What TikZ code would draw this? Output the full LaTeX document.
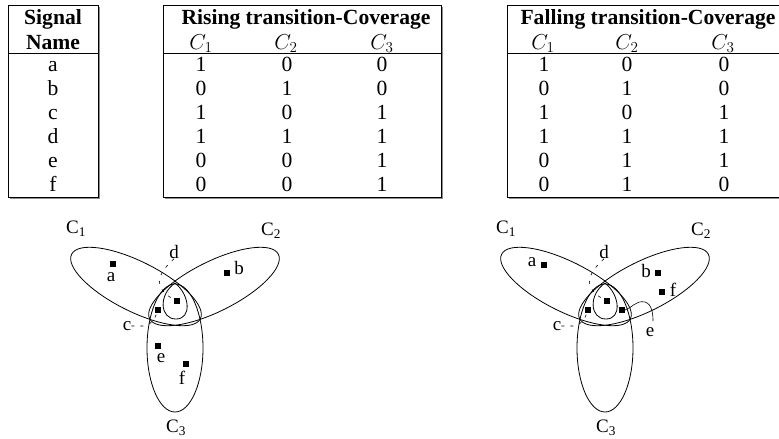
\RequirePackage{fix-cm}
\documentclass[tikz,border=0pt]{standalone}
\usepackage{fontspec}
\setmainfont{Liberation Serif}
\begin{document}
\begin{tikzpicture}[x=1pt,y=-1pt,
  tbl/.style={line width=1pt},
  shd/.style={line width=1.2pt,black!45},
  hd/.style={anchor=base,inner sep=0pt,font=\fontsize{21.6}{24}\selectfont\bfseries},
  cell/.style={anchor=base,inner sep=0pt,font=\fontsize{21.6}{24}\selectfont},
  lbl/.style={inner sep=0pt,font=\fontsize{19}{21}\selectfont},
  dot/.style={fill=black,inner sep=0pt,minimum size=5.5pt,draw=none},
  set/.style={line width=0.8pt},
  lead/.style={line width=0.6pt,dash pattern=on 3pt off 6pt},
]
\useasboundingbox (0,0) rectangle (779,439);
\fill[white] (0,0) rectangle (779,439);
% ---------- tables ----------
\draw[shd] (99.5,6.5) -- (99.5,198.5) -- (9.5,198.5);
\draw[shd] (442.5,6.5) -- (442.5,198.5) -- (164.5,198.5);
\draw[shd] (790,198.5) -- (508.5,198.5);
\draw[tbl] (8,5) rectangle (98,197);
\draw[tbl] (8,53) -- (98,53);
\draw[tbl] (163,5) rectangle (441,197);
\draw[tbl] (163,53) -- (441,53);
\draw[tbl] (507,5) -- (790,5) (507,5) -- (507,197) -- (790,197);
\draw[tbl] (507,53) -- (790,53);
\node[hd] (sig) at (53,24) {Signal};
\node[hd] (nam) at (53,49) {Name};
\node[hd] (rt) at (306,24) {Rising transition-Coverage};
\node[hd] (ft) at (648,24) {Falling transition-Coverage};
\node[cell] (r1) at (201,49) {$C_1$};
\node[cell] (r2) at (286,49) {$C_2$};
\node[cell] (r3) at (382,49) {$C_3$};
\node[cell] (f1) at (543,49) {$C_1$};
\node[cell] (f2) at (627,49) {$C_2$};
\node[cell] (f3) at (723,49) {$C_3$};
\foreach \s/\ra/\rb/\rc/\fa/\fb/\fc [count=\i from 0] in
  {a/1/0/0/1/0/0, b/0/1/0/0/1/0, c/1/0/1/1/0/1, d/1/1/1/1/1/1, e/0/0/1/0/1/1, f/0/0/1/0/1/0}{
  \node[cell] (n\i) at (53,71+24*\i) {\s};
  \node[cell] (ra\i) at (201,71+24*\i) {\ra};
  \node[cell] (rb\i) at (287,71+24*\i) {\rb};
  \node[cell] (rc\i) at (382,71+24*\i) {\rc};
  \node[cell] (fa\i) at (544,71+24*\i) {\fa};
  \node[cell] (fb\i) at (627,71+24*\i) {\fb};
  \node[cell] (fc\i) at (724,71+24*\i) {\fc};
}
% ---------- Venn diagrams ----------
\foreach \dx/\p in {0/L,430/R}{
\begin{scope}[xshift=\dx pt]
  \draw[set,rotate around={-26.6:(136,286.5)}] (136,286.5) ellipse [x radius=72, y radius=25];
  \draw[set,rotate around={26.6:(214,286.5)}] (214,286.5) ellipse [x radius=72, y radius=25];
  \draw[set] (175,348) ellipse [x radius=28, y radius=64];
  \draw[set] (175,283) .. controls (158,295) and (160,319) .. (176,319)
             .. controls (192,319) and (190,295) .. (175,283);
  \node[lbl] (\p C1) at (76,229) {C\textsubscript{1}};
  \node[lbl] (\p C2) at (271,231) {C\textsubscript{2}};
  \node[lbl] (\p C3) at (176,428) {C\textsubscript{3}};
  \node[dot] (\p dd) at (177,301) {};
  \node[lbl] (\p dl) at (174,252) {d};
  \node[dot] (\p cd) at (158,310) {};
  \node[lbl] (\p cl) at (127,326) {c};
  \draw[lead] (\p dl.south) .. controls (150,280) and (160,292) .. (\p dd);
  \draw[lead] (\p cl.east) -- ++(12,0) .. controls (152,325) and (155,318) .. (\p cd);
\end{scope}
}
% left-only points
\node[dot] (Lad) at (113,264) {};
\node[lbl] (Lal) at (111,277) {a};
\node[dot] (Lbd) at (227,273) {};
\node[lbl] (Lbl) at (239,268) {b};
\node[dot] (Led) at (158,346) {};
\node[lbl] (Lel) at (161,358) {e};
\node[dot] (Lfd) at (186,364) {};
\node[lbl] (Lfl) at (182,378) {f};
% right-only points
\node[dot] (Rad) at (544,265) {};
\node[lbl] (Ral) at (532,262) {a};
\node[dot] (Rbd) at (658,273) {};
\node[lbl] (Rbl) at (646,271) {b};
\node[dot] (Rfd) at (662,292) {};
\node[lbl] (Rfl) at (673,290) {f};
\node[dot] (Red) at (622,310) {};
\node[lbl] (Rel) at (650,332) {e};
\draw[line width=0.6pt] (Red.east) .. controls (632,308) and (636,300) .. (645,302)
   .. controls (652,304) and (653,314) .. (653,321);
\end{tikzpicture}
\end{document}
